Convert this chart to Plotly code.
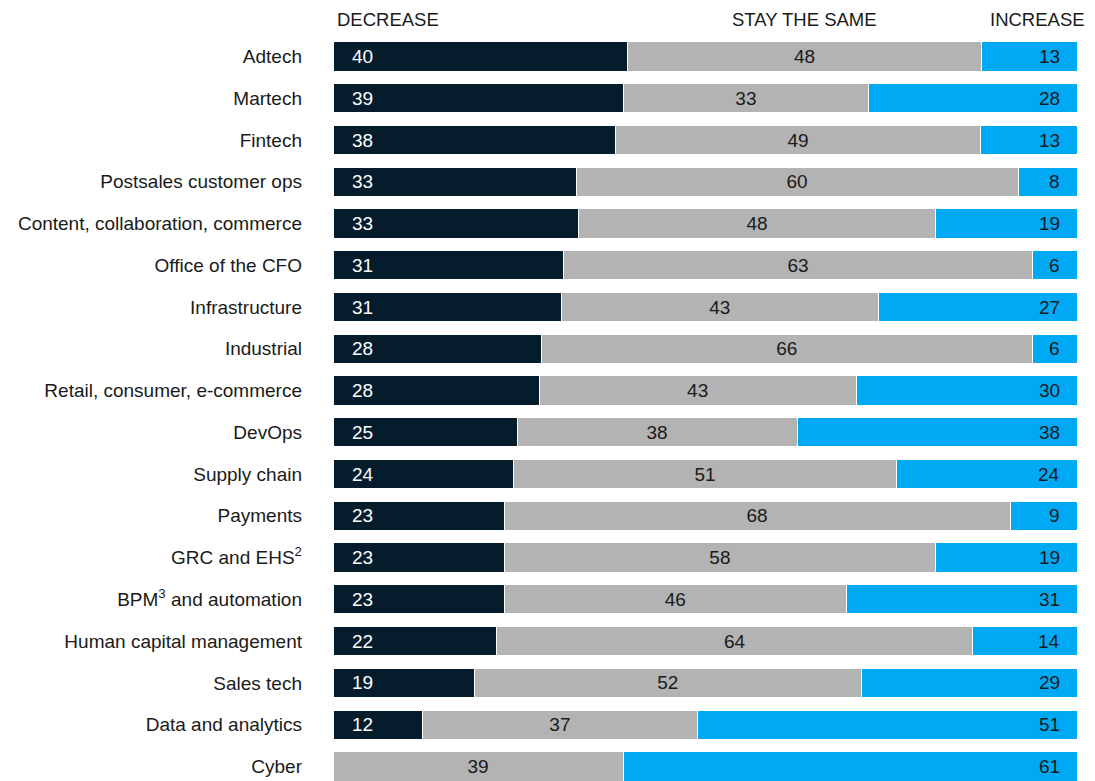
import plotly.graph_objects as go

categories = ["Adtech", "Martech", "Fintech", "Postsales customer ops",
              "Content, collaboration, commerce", "Office of the CFO", "Infrastructure",
              "Industrial", "Retail, consumer, e-commerce", "DevOps", "Supply chain",
              "Payments", "GRC and EHS<sup>2</sup>", "BPM<sup>3</sup> and automation",
              "Human capital management", "Sales tech", "Data and analytics", "Cyber"]
decrease = [40, 39, 38, 33, 33, 31, 31, 28, 28, 25, 24, 23, 23, 23, 22, 19, 12, 0]
stay_same = [48, 33, 49, 60, 48, 63, 43, 66, 43, 38, 51, 68, 58, 46, 64, 52, 37, 39]
increase = [13, 28, 13, 8, 19, 6, 27, 6, 30, 38, 24, 9, 19, 31, 14, 29, 51, 61]
headers = ["DECREASE", "STAY THE SAME", "INCREASE"]

DARK = "#051c2c"
GRAY = "#b3b3b3"
BLUE = "#00a9f4"
TXT = "#1a1a1a"
FONT = "Liberation Sans, Arial, sans-serif"
FS = 19

fig = go.Figure()
fig.add_trace(go.Bar(y=categories, x=decrease, orientation="h", marker_color=DARK,
                     marker_line=dict(color="white", width=1), width=0.7,
                     hoverinfo="x+y"))
fig.add_trace(go.Bar(y=categories, x=stay_same, orientation="h", marker_color=GRAY,
                     marker_line=dict(color="white", width=1), width=0.7,
                     text=[str(v) for v in stay_same], textposition="inside",
                     insidetextanchor="middle",
                     textfont=dict(color=TXT, size=FS, family=FONT), hoverinfo="x+y"))
fig.add_trace(go.Bar(y=categories, x=increase, orientation="h", marker_color=BLUE,
                     marker_line=dict(color="white", width=1), width=0.7,
                     hoverinfo="x+y"))

annotations = []
for cat, d in zip(categories, decrease):
    if d > 0:
        annotations.append(dict(x=0, y=cat, xref="x", yref="y", text=str(d),
                                showarrow=False, xanchor="left", xshift=17,
                                font=dict(color="white", size=FS, family=FONT)))
for cat, v in zip(categories, increase):
    annotations.append(dict(x=100, y=cat, xref="x", yref="y", text=str(v),
                            showarrow=False, xanchor="right", xshift=-15,
                            font=dict(color=TXT, size=FS, family=FONT)))

hx = [(0.0, "left", 2), (0.634, "center", 0), (1.0134, "right", 0)]
for h, (px, anc, sh) in zip(headers, hx):
    annotations.append(dict(x=px, y=1, xref="paper", yref="paper", text=h,
                            showarrow=False, xanchor=anc, yanchor="bottom",
                            xshift=sh, yshift=-2,
                            font=dict(color=TXT, size=18.5, family=FONT)))

fig.update_layout(
    barmode="stack", barnorm="percent",
    width=1087, height=773,
    margin=dict(l=325, r=18, t=22, b=0, pad=0),
    plot_bgcolor="white", paper_bgcolor="white",
    showlegend=False,
    annotations=annotations,
    font=dict(family=FONT, size=FS, color=TXT),
)
fig.update_xaxes(range=[0, 100], visible=False, fixedrange=True)
fig.update_yaxes(type="category", range=[17.35, -0.635], showgrid=False, zeroline=False,
                 showline=False, ticks="", ticklabelstandoff=30,
                 tickfont=dict(size=FS, family=FONT, color=TXT), fixedrange=True)

fig.write_html("out.html")
